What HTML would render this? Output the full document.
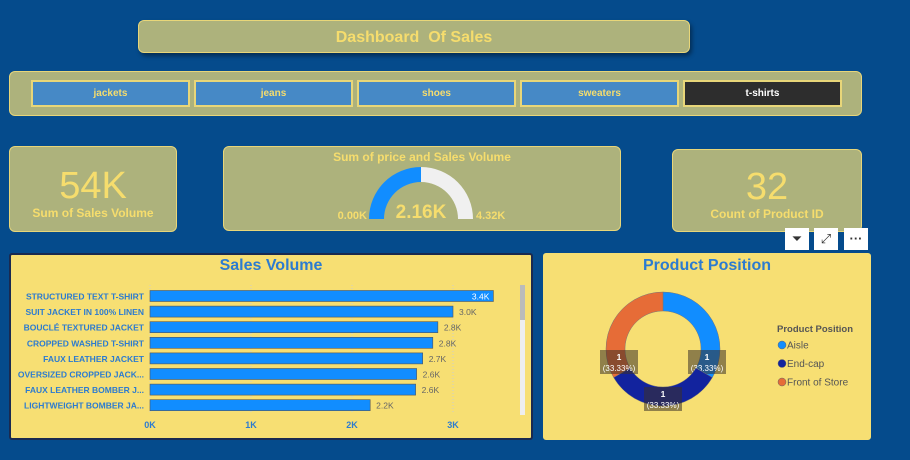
<!DOCTYPE html>
<html><head><meta charset="utf-8"><style>
body{margin:0;width:910px;height:460px;background:#054B8C;font-family:"Liberation Sans",sans-serif;position:relative;overflow:hidden}
.box{position:absolute;background:#ADB27C;border:1.5px solid #E8D679;border-radius:6px;box-sizing:border-box}
.yt{color:#F6DD6D;font-weight:bold;text-align:center}
.btn{position:absolute;top:80px;height:27px;width:159px;background:#4689C6;border:2px solid #E8D679;box-sizing:border-box;color:#F6DD6D;font-size:10px;font-weight:bold;text-align:center;line-height:23px}
.panel{position:absolute;background:#F7DF73;border:1.5px solid #111;box-sizing:border-box;border-radius:3px}
.ic{position:absolute;top:228px;width:24px;height:22px;background:#fff;color:#333;font-size:13px;text-align:center;line-height:22px}
</style></head><body>
<div class="box" style="left:138px;top:20px;width:552px;height:33px;box-shadow:2px 3px 4px rgba(0,0,0,.4)"><div class="yt" style="font-size:16px;line-height:33px">Dashboard&nbsp; Of Sales</div></div>
<div class="box" style="left:9px;top:71px;width:853px;height:45px"></div>
<div class="btn" style="left:31px">jackets</div>
<div class="btn" style="left:194px">jeans</div>
<div class="btn" style="left:357px">shoes</div>
<div class="btn" style="left:520px">sweaters</div>
<div class="btn" style="left:683px;background:#2D2D2D;color:#fff">t-shirts</div>

<div class="box" style="left:9px;top:146px;width:168px;height:86px">
<div class="yt" style="font-size:38px;margin-top:18px;font-weight:normal">54K</div>
<div class="yt" style="font-size:12px;margin-top:-2px">Sum of Sales Volume</div></div>
<div class="box" style="left:223px;top:146px;width:398px;height:85px">
<div class="yt" style="font-size:12px;margin-top:3px">Sum of price and Sales Volume</div></div>
<svg style="position:absolute;left:0;top:0" width="910" height="460">
<path d="M369,219 A52,52 0 0 1 421,167 L421,182 A37,37 0 0 0 384,219Z" fill="#118DFF"/>
<path d="M421,167 A52,52 0 0 1 473,219 L458,219 A37,37 0 0 0 421,182Z" fill="#F0F0F0"/>
<text x="421" y="218" fill="#F6DD6D" font-size="19" font-weight="bold" text-anchor="middle">2.16K</text>
<text x="367" y="219" fill="#F6DD6D" font-size="11" font-weight="bold" text-anchor="end">0.00K</text>
<text x="476" y="219" fill="#F6DD6D" font-size="11" font-weight="bold">4.32K</text>
</svg>
<div class="box" style="left:672px;top:149px;width:190px;height:83px">
<div class="yt" style="font-size:38px;margin-top:16px;font-weight:normal">32</div>
<div class="yt" style="font-size:12px;margin-top:-2px">Count of Product ID</div></div>

<div class="ic" style="left:785px">⏷</div>
<div class="ic" style="left:814px">⤢</div>
<div class="ic" style="left:844px;font-weight:bold">···</div>

<div class="panel" style="left:9px;top:253px;width:524px;height:187px;border:2px solid #1a2a50"></div>
<div class="panel" style="left:543px;top:253px;width:328px;height:187px;border-color:#F7DF73"></div>
<svg id="c" style="position:absolute;left:0;top:0" width="910" height="460">
<text x="271" y="270" fill="#2C7BD0" font-size="16" font-weight="bold" text-anchor="middle">Sales Volume</text>
<rect x="520" y="285" width="5" height="130" fill="#eee"/>
<rect x="520" y="285" width="5" height="35" fill="#bbb"/>
<text x="707" y="270" fill="#2C7BD0" font-size="16" font-weight="bold" text-anchor="middle">Product Position</text>
<text x="777" y="332" fill="#555" font-size="9.5" font-weight="bold">Product Position</text>
</svg>
<script>
const categories=["STRUCTURED TEXT T-SHIRT","SUIT JACKET IN 100% LINEN","BOUCLÉ TEXTURED JACKET","CROPPED WASHED T-SHIRT","FAUX LEATHER JACKET","OVERSIZED CROPPED JACK...","FAUX LEATHER BOMBER J...","LIGHTWEIGHT BOMBER JA..."];
const values=[3.4,3.0,2.85,2.8,2.7,2.64,2.63,2.18];
const valueLabels=["3.4K","3.0K","2.8K","2.8K","2.7K","2.6K","2.6K","2.2K"];
const ticks=[0,1,2,3];
const tickLabels=["0K","1K","2K","3K"];
const sliceNames=["Aisle","End-cap","Front of Store"];
const sliceValues=[1,1,1];
const sliceColors=["#118DFF","#12239E","#E66C37"];
const svg=document.getElementById('c');const NS="http://www.w3.org/2000/svg";
function mk(t,a,txt){const e=document.createElementNS(NS,t);for(const k in a)e.setAttribute(k,a[k]);if(txt!=null)e.textContent=txt;svg.appendChild(e);return e;}
const x=v=>150+v*101;const y=i=>290.5+i*15.6;
ticks.forEach((t,i)=>{
const g=mk('line',{x1:x(t),x2:x(t),y1:285,y2:412,stroke:'#ccc','stroke-dasharray':'1,2'});


const l=mk('text',{x:x(t),y:428,fill:'#2C7BD0','font-size':9,'font-weight':'bold','text-anchor':'middle'},tickLabels[i]);


});
values.forEach((v,i)=>{
const b=mk('rect',{x:x(0),y:y(i),width:x(v)-x(0),height:11,fill:'#118DFF',stroke:'#555','stroke-width':0.6});


const c=mk('text',{x:144,y:y(i)+9,fill:'#2C7BD0','font-size':8.5,'font-weight':'bold','text-anchor':'end'},categories[i]);


const inside=i===0;
const vl=mk('text',{x:inside?x(v)-4:x(v)+6,y:y(i)+9,fill:inside?'#fff':'#666','font-size':8.5,'text-anchor':inside?'end':'start'},valueLabels[i]);


});
const cx=663,cy=349,R=57,r=38;const tot=sliceValues.reduce((a,b)=>a+b,0);let a0=0;
sliceValues.forEach((v,i)=>{
const a1=a0+v/tot*2*Math.PI;
const p=(rr,a)=>[cx+rr*Math.sin(a),cy-rr*Math.cos(a)];
const [x1,y1]=p(R,a0),[x2,y2]=p(R,a1),[x3,y3]=p(r,a1),[x4,y4]=p(r,a0);const lg=(a1-a0)>Math.PI?1:0;
const s=mk('path',{d:`M${x1},${y1}A${R},${R} 0 ${lg} 1 ${x2},${y2}L${x3},${y3}A${r},${r} 0 ${lg} 0 ${x4},${y4}Z`,fill:sliceColors[i],stroke:'#777','stroke-width':0.5});


const am=(a0+a1)/2;const sx=Math.sin(am);
let lx,ly;
if(Math.abs(sx)>0.3){lx=cx+Math.sign(sx)*44;ly=cy+13;}else{lx=cx;ly=cy+50;}
const bx=mk('rect',{x:lx-19,y:ly-12,width:38,height:24,fill:'rgba(60,50,40,0.55)'});


const t1=mk('text',{x:lx,y:ly-2,fill:'#fff','font-size':8.5,'font-weight':'bold','text-anchor':'middle'},String(v));


const t2=mk('text',{x:lx,y:ly+9,fill:'#fff','font-size':8,'text-anchor':'middle'},'('+(v/tot*100).toFixed(2)+'%)');


const ly2=345+i*18.5;
const d=mk('circle',{cx:782,cy:ly2,r:4,fill:sliceColors[i],stroke:'#666','stroke-width':0.5});


const lt=mk('text',{x:787,y:ly2+3.5,fill:'#555','font-size':10},sliceNames[i]);


a0=a1;});
</script>
</body></html>
